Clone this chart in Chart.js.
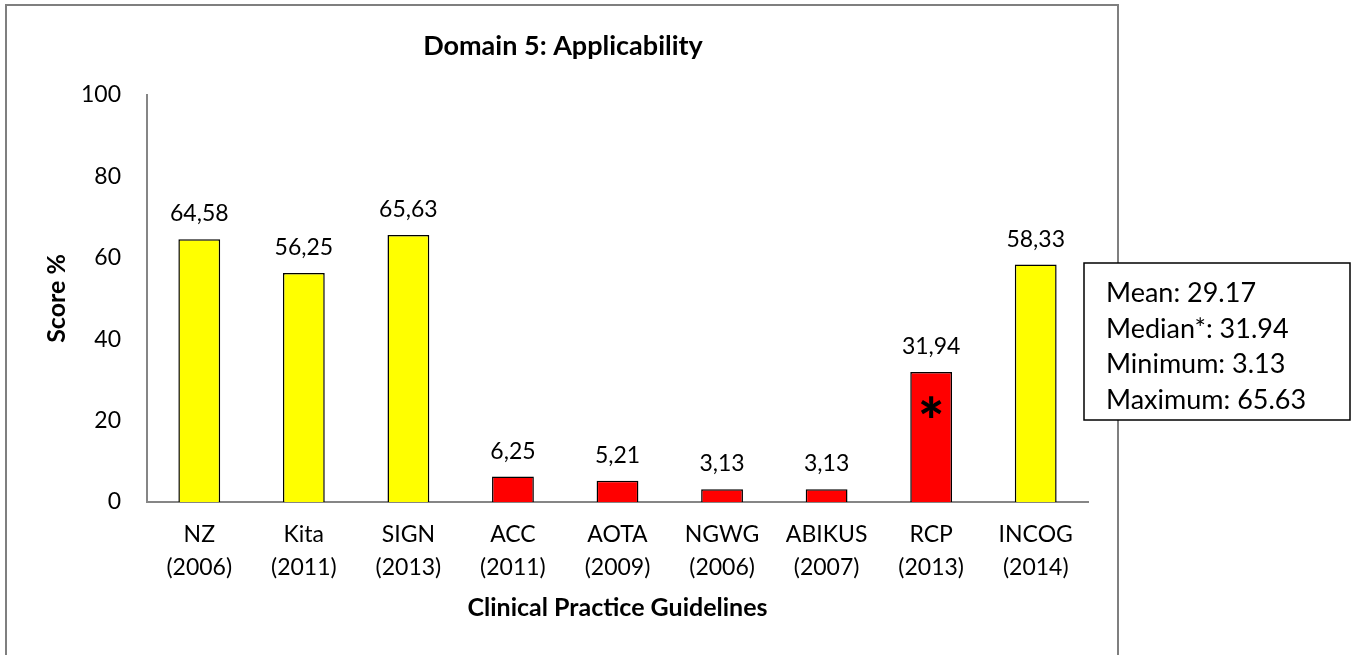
<!DOCTYPE html>
<html>
<head>
<meta charset="utf-8">
<script src="https://cdn.jsdelivr.net/npm/chart.js@4/dist/chart.umd.min.js"></script>
<style>
  html, body { margin: 0; padding: 0; background: #fff; }
  #wrap { width: 1357px; height: 655px; position: relative; }
</style>
</head>
<body>
<div id="wrap"><canvas id="grafico"></canvas></div>
<script>
// Domain 5 (Applicability): puntuación por guía clínica.
const categorias = [
  ["NZ", "(2006)"], ["Kita", "(2011)"], ["SIGN", "(2013)"], ["ACC", "(2011)"],
  ["AOTA", "(2009)"], ["NGWG", "(2006)"], ["ABIKUS", "(2007)"], ["RCP", "(2013)"], ["INCOG", "(2014)"],
];
const puntuaciones = [64.58, 56.25, 65.63, 6.25, 5.21, 3.13, 3.13, 31.94, 58.33];
// true = por encima de la mediana (amarillo), false = rojo
const altos = [true, true, true, false, false, false, false, false, true];
const indiceMediana = 7;
const ticksY = [0, 20, 40, 60, 80, 100];
const resumen = ["Mean: 29.17", "Median*: 31.94", "Minimum: 3.13", "Maximum: 65.63"];

const AMARILLO = "#ffff00";
const ROJO = "#ff0000";
const GRIS = "#868686";
const FUENTE = "Lato, 'Open Sans', sans-serif";

Chart.defaults.font.family = FUENTE;
Chart.defaults.color = "#000";

// Marco exterior + cuadro de estadísticos
const decoracion = {
  id: "decoracion",
  beforeDraw(chart) {
    const ctx = chart.ctx;
    ctx.save();
    ctx.fillStyle = "#fff";
    ctx.fillRect(0, 0, chart.width, chart.height);
    ctx.strokeStyle = "#7f7f7f";
    ctx.lineWidth = 2;
    ctx.strokeRect(6, 5, 1112, chart.height + 10);
    ctx.restore();
  },
  afterDraw(chart) {
    const ctx = chart.ctx;
    ctx.save();
    ctx.fillStyle = "#fff";
    ctx.fillRect(1084, 263, 266, 157);
    ctx.strokeStyle = "#000";
    ctx.lineWidth = 1.5;
    ctx.strokeRect(1084, 263, 266, 157);
    ctx.fillStyle = "#000";
    ctx.font = "27px " + FUENTE;
    ctx.textAlign = "left";
    ctx.textBaseline = "alphabetic";
    resumen.forEach((t, i) => ctx.fillText(t, 1106, 302 + i * 35.5));
    ctx.restore();
  },
};

// Etiquetas de valor (coma decimal) y asterisco en la barra de la mediana
const etiquetas = {
  id: "etiquetas",
  afterDatasetsDraw(chart) {
    const ctx = chart.ctx;
    const meta = chart.getDatasetMeta(0);
    ctx.save();
    ctx.fillStyle = "#000";
    ctx.textAlign = "center";
    ctx.textBaseline = "alphabetic";
    meta.data.forEach((bar, i) => {
      ctx.font = "23px " + FUENTE;
      ctx.fillText(puntuaciones[i].toFixed(2).replace(".", ","), bar.x, bar.y - 18);
      if (i === indiceMediana) {
        ctx.font = "900 62px " + FUENTE;
        const m = ctx.measureText("*");
        const cy = bar.y + (bar.base - bar.y) * 0.27;
        const off = (m.actualBoundingBoxAscent - m.actualBoundingBoxDescent) / 2;
        ctx.fillText("*", bar.x, cy + off);
      }
    });
    ctx.restore();
  },
};

new Chart(document.getElementById("grafico"), {
  type: "bar",
  data: {
    labels: categorias,
    datasets: [{
      data: puntuaciones,
      backgroundColor: altos.map((a) => (a ? AMARILLO : ROJO)),
      borderColor: "#000",
      borderWidth: 1.5,
      barPercentage: 0.4,
      categoryPercentage: 1,
    }],
  },
  options: {
    responsive: true,
    maintainAspectRatio: false,
    animation: false,
    layout: { padding: { left: 38, right: 269, top: 0, bottom: 32 } },
    plugins: {
      legend: { display: false },
      tooltip: { enabled: false },
      title: {
        display: true,
        text: "Domain 5: Applicability",
        font: { size: 27, weight: "bold" },
        color: "#000",
        padding: { top: 29.8, bottom: 32.8 },
      },
    },
    scales: {
      x: {
        grid: { display: false, drawTicks: false },
        border: { display: true, color: GRIS, width: 2 },
        ticks: { color: "#000", font: { size: 23, lineHeight: 1.43 }, padding: 16, maxRotation: 0, autoSkip: false },
        title: { display: true, text: "Clinical Practice Guidelines", font: { size: 25, weight: "bold" }, color: "#000", padding: 0 },
        afterFit: (s) => { s.height = 121; },
      },
      y: {
        min: 0,
        max: 100,
        afterBuildTicks: (s) => { s.ticks = ticksY.map((v) => ({ value: v })); },
        grid: { display: false, drawTicks: false },
        border: { display: true, color: GRIS, width: 2 },
        ticks: { color: "#000", font: { size: 23 }, padding: 26 },
        title: { display: true, text: "Score %", font: { size: 25, weight: "bold" }, color: "#000", padding: 4 },
        afterFit: (s) => { s.width = 109; },
      },
    },
  },
  plugins: [decoracion, etiquetas],
});
</script>
</body>
</html>
